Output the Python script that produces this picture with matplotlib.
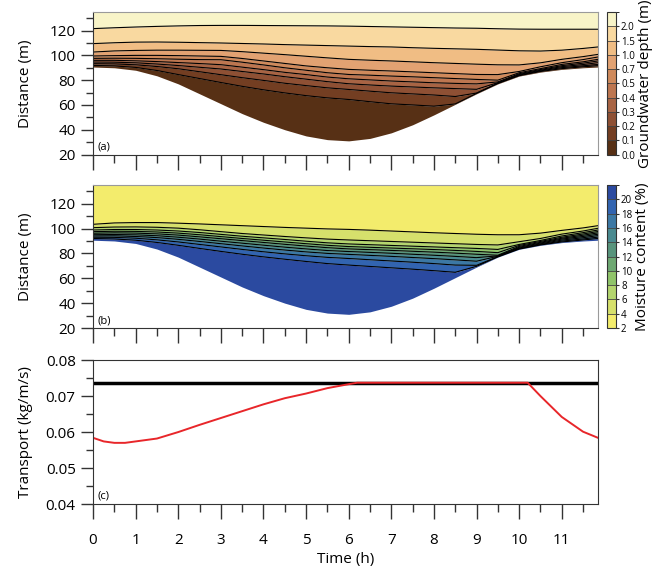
import numpy as np
import matplotlib
matplotlib.use("Agg")
import matplotlib.pyplot as plt
from matplotlib.colors import ListedColormap, BoundaryNorm
from matplotlib.cm import ScalarMappable
from matplotlib.ticker import MultipleLocator

plt.rcParams['font.family'] = ['Open Sans', 'DejaVu Sans']

# time grid (h) for the contour lines
t = [0, 0.5, 1, 1.5, 2, 2.5, 3, 3.5, 4, 4.5, 5, 5.5, 6, 6.5, 7, 7.5, 8, 8.5, 9, 9.5,
     10, 10.5, 11, 11.5, 11.85]

# lower edge of both domains (m)
edge = [90.6, 90, 88, 83.5, 77, 69, 61, 53, 46, 40, 35, 32, 31, 33, 37.5, 44, 52, 60.5,
        69, 77, 83.3, 86.5, 88.7, 90, 90.6]

# (a) groundwater depth contour lines, position in m
depth_levels = ["0.0", "0.1", "0.2", "0.3", "0.4", "0.5", "0.7", "1.0", "1.5", "2.0"]
gw_01 = [91.9, 91.5, 90.3, 87.8, 84.5, 81.3, 78.1, 75, 72.2, 69.7, 67.5, 65.7, 64.4, 62.6,
         60.9, 60, 59, 60.8, 69.3, 77.3, 83.6, 87, 89.3, 90.8, 91.7]
gw_02 = [93.3, 93.1, 92.4, 91, 89.2, 86.8, 84.4, 82, 79.8, 77.5, 75.6, 73.8, 72.5, 71.1,
         69.8, 68.9, 68, 66.8, 69.6, 77.5, 84.1, 87.5, 90.1, 91.6, 92.7]
gw_03 = [94.6, 94.5, 94, 93, 91.8, 90.4, 89, 87, 85, 82.8, 80.8, 78.8, 77.1, 76.1, 75.2,
         74.5, 73.8, 73.2, 72.6, 78, 84.6, 88, 90.9, 92.6, 94.1]
gw_04 = [96, 96, 95.6, 95, 94.2, 93.4, 92.5, 90.5, 88.5, 86.3, 84.5, 82.5, 81.1, 80.2,
         79.3, 78.6, 77.9, 77.4, 77, 78.6, 85.2, 88.6, 91.7, 93.7, 95.5]
gw_05 = [97.6, 97.7, 97.6, 97.3, 96.9, 96.6, 96.5, 94.5, 92.3, 90, 88, 86, 84.6, 84, 83.3,
         82.7, 82, 81.3, 80.6, 80, 86, 89.3, 92.7, 94.8, 96.8]
gw_07 = [99.5, 99.8, 100, 100, 99.8, 99.5, 99.2, 97.5, 95.5, 93.5, 91.5, 90, 88.7, 88,
         87.4, 86.7, 86, 85.3, 84.6, 84.5, 87, 90.8, 94.1, 96.6, 98.7]
gw_10 = [102.7, 103.6, 104, 104.2, 104.2, 104.1, 104, 103, 101.8, 100.6, 99.3, 98, 96.8,
         96.1, 95.5, 94.8, 94.1, 93.5, 92.9, 92.4, 92.3, 94, 96.8, 99, 100.8]
gw_15 = [109.5, 110.2, 110.7, 110.8, 110.6, 110.3, 110, 109.6, 109.2, 108.7, 108.3, 107.9,
         107.5, 107.1, 106.8, 106.2, 105.7, 105.3, 104.9, 104.3, 103.7, 103.5, 104.2,
         105.6, 106.8]
gw_20 = [121.6, 122.3, 122.9, 123.4, 123.8, 124.1, 124.2, 124.2, 124.1, 124, 123.9, 123.8,
         123.6, 123.3, 123, 122.7, 122.4, 122.1, 121.9, 121.5, 121.2, 121.1, 121.1, 121.1,
         121.1]
gw_colors = ["#573015", "#733e22", "#8e5034", "#a86444", "#bd7650", "#cf8a5c", "#e2a272",
             "#f0bd84", "#f9d9a0", "#f8f4c8"]

# (b) moisture content contour lines, position in m
moist_levels = ["2", "4", "6", "8", "10", "12", "14", "16", "18", "20"]
mc_20 = [92, 91.6, 90.6, 88.8, 86.5, 84, 81.6, 79.3, 77.2, 75.3, 73.5, 71.8, 70.6, 69.5,
         68.4, 67.3, 66.1, 64.8, 69.6, 77.2, 83.5, 86.8, 89.2, 90.8, 92]
mc_18 = [93, 92.9, 92.2, 90.9, 89.2, 87.2, 85.2, 83.2, 81.3, 79.6, 78.1, 76.8, 75.9, 74.9,
         73.9, 72.9, 71.8, 70.6, 70.4, 77.4, 83.8, 87.2, 89.9, 91.6, 93.1]
mc_16 = [94, 94.1, 93.6, 92.7, 91.3, 89.6, 87.8, 86, 84.3, 82.7, 81.2, 80, 79.2, 78.4, 77.6,
         76.7, 75.8, 74.8, 73.7, 77.7, 84.3, 87.7, 90.7, 92.6, 94.3]
mc_14 = [95, 95.2, 94.9, 94.2, 93, 91.5, 89.8, 88.2, 86.6, 85, 83.6, 82.3, 81.5, 80.8, 80.1,
         79.3, 78.5, 77.6, 76.6, 78, 84.9, 88.3, 91.5, 93.6, 95.4]
mc_12 = [96.2, 96.5, 96.3, 95.7, 94.7, 93.3, 91.8, 90.3, 88.8, 87.3, 85.9, 84.6, 83.6, 83,
         82.4, 81.7, 81, 80.2, 79.3, 78.5, 85.6, 88.9, 92.2, 94.6, 96.5]
mc_10 = [97.5, 97.8, 97.7, 97.2, 96.3, 95, 93.5, 92, 90.6, 89.2, 87.8, 86.5, 85.5, 84.9,
         84.3, 83.7, 83.1, 82.4, 81.6, 80.6, 86.4, 89.6, 93, 95.6, 97.6]
mc_08 = [98.8, 99.2, 99.2, 98.8, 98, 96.8, 95.3, 93.8, 92.5, 91.2, 89.8, 88.5, 87.6, 87,
         86.4, 85.8, 85.2, 84.6, 84, 83.2, 87.2, 90.4, 94, 96.7, 98.8]
mc_06 = [100.7, 101.2, 101.3, 101, 100.3, 99, 97.5, 96, 94.8, 93.6, 92.5, 91.5, 90.8, 90.2,
         89.6, 89, 88.4, 87.8, 87.2, 86.8, 89.4, 92, 95.5, 98, 100.2]
mc_04 = [103.4, 104.5, 104.8, 104.8, 104.3, 103.7, 103, 102.3, 101.6, 100.9, 100.3, 99.7,
         99.3, 98.7, 98, 97.3, 96.6, 96, 95.4, 95, 95, 96.3, 98.5, 100.5, 102.3]
mc_colors = ["#f3ec6c", "#d6e06c", "#b4d56e", "#90c46a", "#6ea872", "#58947c", "#4a8a90",
             "#3c78a4", "#3264b0", "#2b4aa0"]

# (c) sediment transport
trans_time = [0, 0.25, 0.5, 0.75, 1, 1.5, 2, 2.5, 3, 3.5, 4, 4.5, 5, 5.5, 6, 6.2, 7, 8, 9,
              10, 10.2, 10.5, 11, 11.5, 11.85]
transport = [0.0584, 0.0574, 0.0570, 0.0570, 0.0574, 0.0582, 0.0600, 0.0620, 0.0639, 0.0658,
             0.0677, 0.0694, 0.0707, 0.0722, 0.0733, 0.0737, 0.0737, 0.0737, 0.0737, 0.0737,
             0.0737, 0.0700, 0.0642, 0.0601, 0.0584]
capacity = 0.0737

TOP = 135
t = np.array(t)

fig = plt.figure(figsize=(6.6, 5.67), dpi=100)
ax_a = fig.add_axes([0.141, 0.7275, 0.765, 0.2513])
ax_b = fig.add_axes([0.141, 0.4215, 0.765, 0.2522])
ax_c = fig.add_axes([0.141, 0.111, 0.765, 0.254])
cax_a = fig.add_axes([0.920, 0.7275, 0.0136, 0.2513])
cax_b = fig.add_axes([0.920, 0.4215, 0.0136, 0.2522])


def layered(ax, lines, colors):
    # lines from bottom (edge) upwards, top of domain closes the last layer
    bounds = [edge] + lines + [[TOP] * len(t)]
    for i, c in enumerate(colors):
        ax.fill_between(t, bounds[i], bounds[i + 1], color=c, lw=0)
    for ln in lines:
        ax.plot(t, ln, color="black", lw=0.8)


layered(ax_a, [gw_01, gw_02, gw_03, gw_04, gw_05, gw_07, gw_10, gw_15, gw_20], gw_colors)
layered(ax_b, [mc_20, mc_18, mc_16, mc_14, mc_12, mc_10, mc_08, mc_06, mc_04],
        mc_colors[::-1])

ax_c.axhline(capacity, color="black", lw=2.5)
ax_c.plot(trans_time, transport, color="#e8262a", lw=1.4)

for ax in (ax_a, ax_b, ax_c):
    ax.set_xlim(0, 11.85)
    ax.xaxis.set_major_locator(MultipleLocator(1))
    ax.xaxis.set_minor_locator(MultipleLocator(0.5))
    ax.tick_params(which="major", direction="out", length=9, width=1, labelsize=11,
                   color="#333333")
    ax.tick_params(which="minor", direction="out", length=5, width=1, color="#333333")
    ax.tick_params(axis="x", which="major", length=11)
    ax.tick_params(axis="x", which="minor", length=6)

for ax, lab in ((ax_a, "(a)"), (ax_b, "(b)")):
    ax.set_ylim(20, TOP)
    ax.yaxis.set_major_locator(MultipleLocator(20))
    ax.yaxis.set_minor_locator(MultipleLocator(10))
    ax.set_ylabel("Distance (m)", fontsize=11)
    ax.tick_params(axis="x", labelbottom=False)
    ax.text(0.1, 24, lab, fontsize=8)
    for s in ("top", "right"):
        ax.spines[s].set_color("#9a9a9a")
    ax.spines["left"].set_color("#333333")
    ax.spines["bottom"].set_color("#333333")

ax_c.set_ylim(0.04, 0.08)
ax_c.yaxis.set_major_locator(MultipleLocator(0.01))
ax_c.yaxis.set_minor_locator(MultipleLocator(0.005))
ax_c.set_ylabel("Transport (kg/m/s)", fontsize=11)
ax_c.set_xlabel("Time (h)", fontsize=11, labelpad=3)
ax_c.text(0.1, 0.0415, "(c)", fontsize=8)
for s in ax_c.spines.values():
    s.set_color("#333333")
ax_c.tick_params(axis="x", pad=10)
for ax in (ax_a, ax_b, ax_c):
    ax.yaxis.set_label_coords(-0.118, 0.5)


def colorbar(cax, colors, labels, title):
    n = len(colors)
    cmap = ListedColormap(colors)
    norm = BoundaryNorm(np.arange(n + 1), n)
    cb = fig.colorbar(ScalarMappable(norm=norm, cmap=cmap), cax=cax,
                      ticks=np.arange(len(labels)), drawedges=True)
    cb.ax.set_yticklabels(labels)
    cb.ax.tick_params(labelsize=7, length=2.5, pad=1, color="#333333")
    cb.outline.set_edgecolor("#333333")
    cb.dividers.set_color("#444444")
    cb.dividers.set_linewidth(0.6)
    cb.set_label(title, fontsize=11, labelpad=2)


colorbar(cax_a, gw_colors, depth_levels, "Groundwater depth (m)")
colorbar(cax_b, mc_colors, moist_levels, "Moisture content (%)")

fig.savefig("out.png", dpi=100)
